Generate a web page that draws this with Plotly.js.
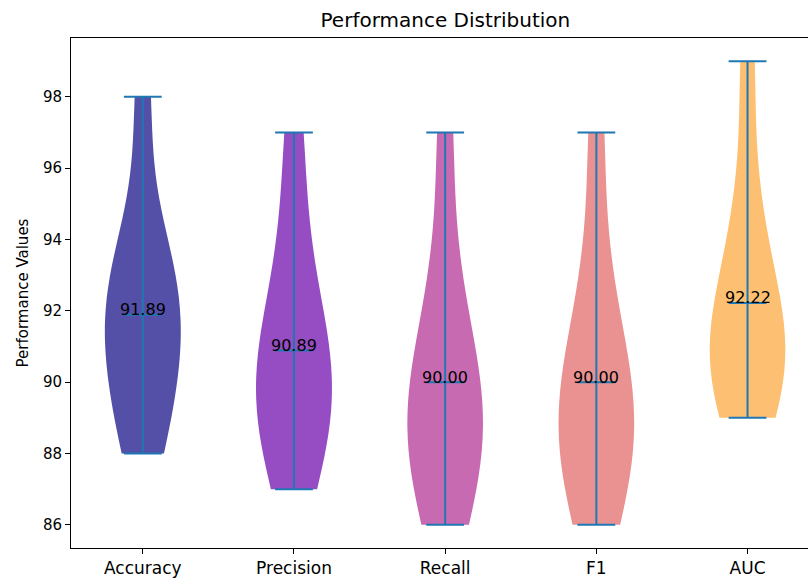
<!DOCTYPE html>
<html>
<head>
<meta charset="utf-8">
<script src="https://cdn.plot.ly/plotly-3.0.1.min.js"></script>
<style>html,body{margin:0;padding:0;background:#fff;overflow:hidden;}#chart{width:808px;height:578px;}</style>
</head>
<body>
<div id="chart"></div>
<script>
// Data
var categories = ["Accuracy", "Precision", "Recall", "F1", "AUC"];
var accuracy  = [88, 89, 90, 91, 92, 92, 93, 94, 98];
var precision = [87, 88, 89, 90, 90, 91, 92, 94, 97];
var recall    = [86, 87, 88, 89, 89, 90, 91, 93, 97];
var f1        = [86, 87, 88, 89, 89, 90, 91, 93, 97];
var auc       = [89, 90, 90, 91, 91, 92, 93, 95, 99];
var series = [accuracy, precision, recall, f1, auc];
var fillColors = ["#5450a8", "#964cc2", "#c86ab1", "#ea9291", "#fdc072"];
var lineColor = "#1f77b4";

function mean(a){ return a.reduce(function(s,v){return s+v;},0)/a.length; }
function scottBw(a){
  var m = mean(a);
  var v = a.reduce(function(s,x){return s+(x-m)*(x-m);},0)/(a.length-1);
  return Math.sqrt(v)*Math.pow(a.length, -0.2);
}

var traces = [];
var annotations = [];
series.forEach(function(d, i){
  traces.push({
    type: "violin",
    x: d.map(function(){return i;}),
    y: d,
    width: 0.5,
    spanmode: "hard",
    bandwidth: scottBw(d),
    scalemode: "width",
    fillcolor: fillColors[i],
    line: {width: 0, color: fillColors[i]},
    points: false,
    box: {visible: false},
    meanline: {visible: false},
    hoverinfo: "skip",
    showlegend: false
  });
  var mn = Math.min.apply(null, d), mx = Math.max.apply(null, d), mu = mean(d);
  var h = 0.125;
  traces.push({
    type: "scatter", mode: "lines",
    x: [i, i, null, i-h, i+h, null, i-h, i+h, null, i-h, i+h],
    y: [mn, mx, null, mn, mn, null, mx, mx, null, mu, mu],
    line: {color: lineColor, width: 2},
    hoverinfo: "skip", showlegend: false
  });
  annotations.push({
    x: i, y: mu, xref: "x", yref: "y",
    text: mu.toFixed(2), showarrow: false,
    xanchor: "center", yanchor: "middle", yshift: 5,
    font: {family: "DejaVu Sans", size: 16, color: "#000"}
  });
});

var layout = {
  width: 808, height: 578,
  margin: {l: 71, r: 0, t: 38, b: 30, pad: 0},
  paper_bgcolor: "#fff", plot_bgcolor: "#fff",
  font: {family: "DejaVu Sans", color: "#000"},
  title: {text: "Performance Distribution", font: {family: "DejaVu Sans", size: 20, color: "#000"},
          x: 0.508, xref: "paper", xanchor: "center", y: 1 - 20/578, yref: "container", yanchor: "middle"},
  xaxis: {
    range: [-0.475, 4.40], tickmode: "array", tickvals: [0,1,2,3,4], ticktext: categories,
    showgrid: false, zeroline: false, showline: true, linecolor: "#000", linewidth: 1, mirror: true,
    ticks: "outside", ticklen: 5, tickwidth: 1, tickcolor: "#000",
    tickfont: {family: "DejaVu Sans", size: 17, color: "#000"}
  },
  yaxis: {
    range: [85.35, 99.65], tickmode: "array", tickvals: [86,88,90,92,94,96,98],
    showgrid: false, zeroline: false, showline: true, linecolor: "#000", linewidth: 1, mirror: false,
    ticks: "outside", ticklen: 5, tickwidth: 1, tickcolor: "#000",
    tickfont: {family: "DejaVu Sans", size: 15, color: "#000"},
    title: {text: "Performance Values", font: {family: "DejaVu Sans", size: 15, color: "#000"}, standoff: 10}
  },
  annotations: annotations
};

Plotly.newPlot("chart", traces, layout, {displayModeBar: false, staticPlot: true});
</script>
</body>
</html>
